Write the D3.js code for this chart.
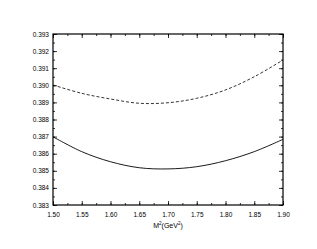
<!DOCTYPE html>
<html><head><meta charset="utf-8">
<script src="https://cdn.jsdelivr.net/npm/d3@7"></script>
<style>body{margin:0;background:#fff}svg text{font-family:"Liberation Sans",Arial,sans-serif}</style>
</head><body><svg id="c" width="317" height="249"></svg>
<script>
const xs = [1.50,1.55,1.60,1.65,1.70,1.75,1.80,1.85,1.90];
const dashed = [0.39002,0.38953,0.38920,0.38895,0.38898,0.38924,0.38973,0.39050,0.39148];
const solid = [0.38699,0.38612,0.38553,0.38518,0.38511,0.38524,0.38559,0.38612,0.38684];
const xTicks = [1.50,1.55,1.60,1.65,1.70,1.75,1.80,1.85,1.90];
const yTicks = [0.383,0.384,0.385,0.386,0.387,0.388,0.389,0.390,0.391,0.392,0.393];

const svg = d3.select("#c");
const L=53,R=283,T=34,B=205;
const x = d3.scaleLinear().domain([1.5,1.9]).range([L,R]);
const y = d3.scaleLinear().domain([0.383,0.393]).range([B,T]);
const g = svg.append("g");
const fmt = d3.format(".2f"), fmtY = d3.format(".3f");
const xMinor = d3.range(0,17).map(i=>1.5+i*0.025);
const yMinor = d3.range(0,21).map(i=>0.383+i*0.0005);

function axis(gen, tr){ const a=g.append("g").attr("transform",tr).call(gen); a.select(".domain").remove(); a.selectAll("line").attr("stroke","#000").attr("stroke-width",0.8); return a;}
const ab = axis(d3.axisBottom(x).tickValues(xTicks).tickFormat(fmt).tickSizeInner(-4).tickSizeOuter(0).tickPadding(7),`translate(0,${B})`);
ab.selectAll("text").attr("font-size","6.5px").attr("fill","#000");
axis(d3.axisBottom(x).tickValues(xMinor).tickFormat("").tickSizeInner(-2).tickSizeOuter(0),`translate(0,${B})`);
axis(d3.axisTop(x).tickValues(xTicks).tickFormat("").tickSizeInner(-4).tickSizeOuter(0),`translate(0,${T})`);
axis(d3.axisTop(x).tickValues(xMinor).tickFormat("").tickSizeInner(-2).tickSizeOuter(0),`translate(0,${T})`);
const al = axis(d3.axisLeft(y).tickValues(yTicks).tickFormat(fmtY).tickSizeInner(-4).tickSizeOuter(0).tickPadding(4),`translate(${L},0)`);
al.selectAll("text").attr("font-size","6.5px").attr("fill","#000");
axis(d3.axisLeft(y).tickValues(yMinor).tickFormat("").tickSizeInner(-2).tickSizeOuter(0),`translate(${L},0)`);
axis(d3.axisRight(y).tickValues(yTicks).tickFormat("").tickSizeInner(-4).tickSizeOuter(0),`translate(${R},0)`);
axis(d3.axisRight(y).tickValues(yMinor).tickFormat("").tickSizeInner(-2).tickSizeOuter(0),`translate(${R},0)`);
g.selectAll(".tick text").attr("font-family","Liberation Sans, Arial, sans-serif");

svg.append("rect").attr("x",L).attr("y",T).attr("width",R-L).attr("height",B-T).attr("fill","none").attr("stroke","#000").attr("stroke-width",1.2);

const line = d3.line().x((d,i)=>x(xs[i])).y(d=>y(d)).curve(d3.curveCatmullRom);
svg.append("path").datum(dashed).attr("d",line).attr("fill","none").attr("stroke","#000").attr("stroke-width",0.8).attr("stroke-dasharray","3,2");
svg.append("path").datum(solid).attr("d",line).attr("fill","none").attr("stroke","#000").attr("stroke-width",0.9);

const t = svg.append("text").attr("x",x(1.7)).attr("y",228).attr("text-anchor","middle").attr("font-size","7px").attr("fill","#000");
t.append("tspan").text("M");
t.append("tspan").attr("font-size","4.5px").attr("dy","-3").text("2");
t.append("tspan").attr("dy","3").text("(GeV");
t.append("tspan").attr("font-size","4.5px").attr("dy","-3").text("2");
t.append("tspan").attr("dy","3").text(")");
</script></body></html>
